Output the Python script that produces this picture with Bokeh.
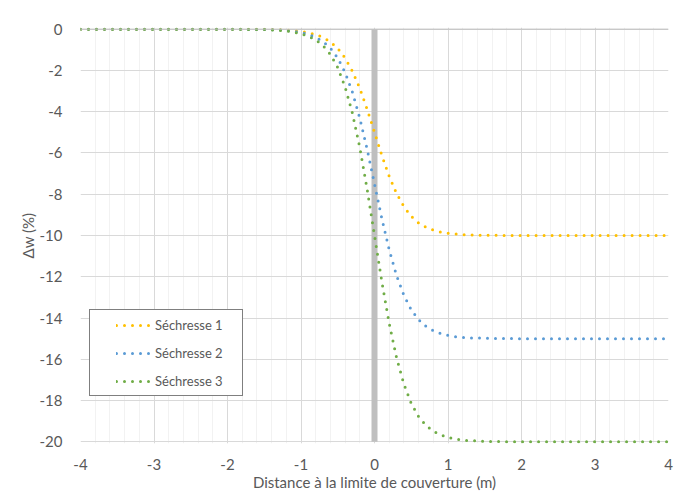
from bokeh.plotting import figure
from bokeh.models import (Range1d, SingleIntervalTicker, Legend, LegendItem, Span,
                          NumeralTickFormatter)
from bokeh.embed import file_html
from bokeh.resources import INLINE

# distance to the edge of the cover (m)
x = [-4, -3, -2, -1.5, -1.4, -1.3, -1.2, -1.1, -1.0, -0.9, -0.8, -0.7, -0.6, -0.5,
     -0.4, -0.3, -0.2, -0.1, 0.0, 0.1, 0.2, 0.3, 0.4, 0.5, 0.6, 0.7, 0.8, 0.9,
     1.0, 1.1, 1.2, 1.3, 1.4, 1.5, 2, 3, 4]

secheresse_1 = [0, 0, 0, -0.01, -0.02, -0.03, -0.04, -0.07, -0.11, -0.17, -0.26, -0.40,
                -0.61, -0.93, -1.40, -2.04, -2.87, -3.88, -5.00, -6.12, -7.13, -7.96,
                -8.60, -9.07, -9.39, -9.60, -9.74, -9.83, -9.89, -9.93, -9.96, -9.97,
                -9.98, -9.99, -10, -10, -10]
secheresse_2 = [0, 0, 0, -0.02, -0.03, -0.04, -0.06, -0.10, -0.16, -0.25, -0.39, -0.60,
                -0.92, -1.40, -2.10, -3.06, -4.31, -5.82, -7.50, -9.18, -10.69, -11.94,
                -12.90, -13.60, -14.08, -14.40, -14.61, -14.75, -14.84, -14.90, -14.94,
                -14.96, -14.97, -14.98, -15, -15, -15]
secheresse_3 = [0, 0, 0, -0.02, -0.04, -0.06, -0.08, -0.14, -0.22, -0.34, -0.52, -0.80,
                -1.22, -1.86, -2.80, -4.08, -5.74, -7.76, -10.00, -12.24, -14.26, -15.92,
                -17.20, -18.14, -18.78, -19.20, -19.48, -19.66, -19.78, -19.86, -19.92,
                -19.94, -19.96, -19.98, -20, -20, -20]

bar_x = [0, 0]
bar_y = [0, -20]

series_names = ["Séchresse 1", "Séchresse 2", "Séchresse 3"]
series_colors = ["#FFC000", "#5B9BD5", "#70AD47"]

FONT = "Lato"
TXT = "#595959"

p = figure(width=685, height=494, output_backend="svg", toolbar_location=None,
           x_range=Range1d(-4, 4), y_range=Range1d(-20.08, 0.08),
           min_border_left=80, min_border_right=17, min_border_top=27, min_border_bottom=51)
p.outline_line_color = None
p.background_fill_color = "white"
p.border_fill_color = "white"

p.xaxis.ticker = SingleIntervalTicker(interval=1, num_minor_ticks=5)
p.yaxis.ticker = SingleIntervalTicker(interval=2, num_minor_ticks=0)
for ax in (p.xaxis[0], p.yaxis[0]):
    ax.formatter = NumeralTickFormatter(format="0")
    ax.axis_line_color = None
    ax.major_tick_line_color = None
    ax.minor_tick_line_color = None
    ax.major_tick_out = 0
    ax.major_tick_in = 0
    ax.major_label_text_font = FONT
    ax.major_label_text_font_size = "15px"
    ax.major_label_text_color = TXT
    ax.axis_label_text_font = FONT
    ax.axis_label_text_font_size = "15px"
    ax.axis_label_text_color = TXT
    ax.axis_label_text_font_style = "normal"

p.xaxis.axis_label = "Distance à la limite de couverture (m)"
p.yaxis.axis_label = "Δw (%)"
p.xaxis.major_label_standoff = 11
p.xaxis.axis_label_standoff = 0
p.yaxis.major_label_standoff = 18
p.yaxis.axis_label_standoff = 0

p.xgrid.grid_line_color = "#D9D9D9"
p.xgrid.minor_grid_line_color = "#F2F2F2"
p.ygrid.grid_line_color = "#D9D9D9"

p.add_layout(Span(location=0, dimension="width", line_color="#BFBFBF", line_width=1))

p.line(bar_x, bar_y, line_color="#BFBFBF", line_width=6)

series = [secheresse_1, secheresse_2, secheresse_3]
items = []
for name, col, ys in zip(series_names, series_colors, series):
    r = p.line(x, ys, line_color=col, line_width=3, line_dash="0 8", line_cap="round")
    items.append(LegendItem(label=name, renderers=[r]))

# legend frame (box only)
ghost = p.line(x=x[:1], y=secheresse_1[:1], line_alpha=0)
legend_box = Legend(items=[LegendItem(label=" ", renderers=[ghost])], location=(9, 47),
                    margin=0, padding=0, spacing=0, glyph_width=2, glyph_height=85,
                    label_height=85, label_width=150, label_standoff=0,
                    label_text_alpha=0, border_line_color="black", border_line_width=1,
                    background_fill_color="white", background_fill_alpha=1)
p.add_layout(legend_box)

legend = Legend(items=items, location=(36, 52), margin=0, padding=0, spacing=8,
                glyph_width=36, glyph_height=20, label_height=20, label_width=60,
                label_standoff=3, label_text_font=FONT, label_text_font_size="13px",
                label_text_color=TXT, border_line_color=None,
                background_fill_alpha=0)
p.add_layout(legend)

open("out.html", "w").write(file_html(p, INLINE))
